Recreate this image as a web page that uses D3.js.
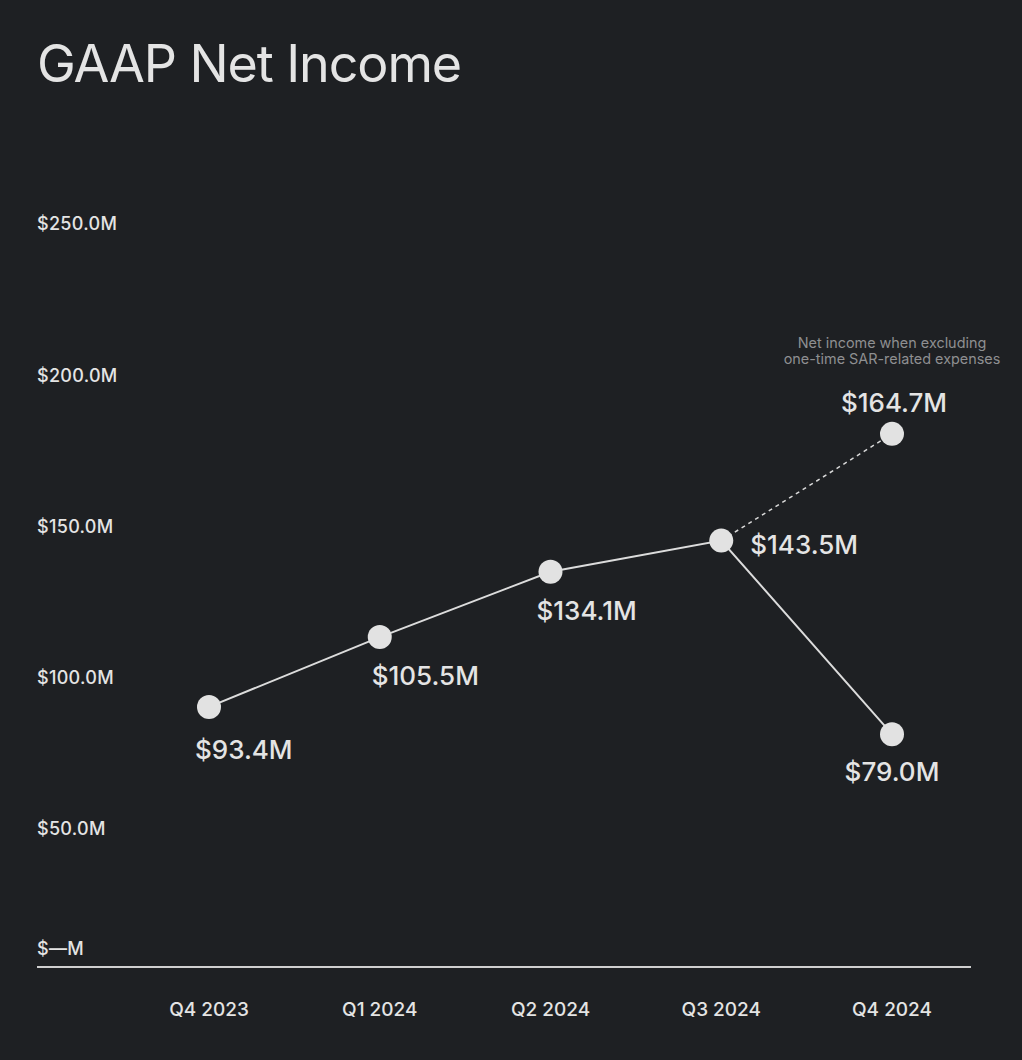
<!DOCTYPE html>
<html>
<head>
<meta charset="utf-8">
<script src="https://cdn.jsdelivr.net/npm/d3@7"></script>
<style>
  html, body { margin: 0; padding: 0; background: #1e2023; }
  svg { display: block; font-family: Inter, "Noto Sans", sans-serif; }
</style>
</head>
<body>
<div id="chart"></div>
<script>
// quarters on the x axis
const quarters = ["Q4 2023", "Q1 2024", "Q2 2024", "Q3 2024", "Q4 2024"];
// where the dots sit ($M)
const netIncome = [90.3, 113.4, 135.0, 145.3, 81.3];
// printed values
const netIncomeLabels = ["$93.4M", "$105.5M", "$134.1M", "$143.5M", "$79.0M"];
// adjusted point (excluding SAR expenses)
const adjQuarter = "Q4 2024";
const adjValue = 180.6;
const adjLabel = "$164.7M";
const yTicks = [0, 50, 100, 150, 200, 250];
const yTickLabels = ["$—M", "$50.0M", "$100.0M", "$150.0M", "$200.0M", "$250.0M"];

const width = 1022, height = 1060;

const svg = d3.select("#chart").append("svg")
    .attr("width", width)
    .attr("height", height);

svg.append("rect")
    .attr("width", width)
    .attr("height", height)
    .attr("fill", "#1e2023");

const x = d3.scalePoint()
    .domain(quarters)
    .range([209, 892]);

const y = d3.scaleLinear()
    .domain([0, 250])
    .range([980, 224]);

const baseY = 967;

// title
svg.append("text")
    .attr("x", 37)
    .attr("y", 82)
    .attr("fill", "#e4e4e4")
    .attr("font-size", 52)
    .attr("letter-spacing", "-1.1px")
    .text("GAAP Net Income");

// y labels (zero label sits just above the baseline)
svg.append("g").selectAll("text")
    .data(yTicks)
    .enter()
    .append("text")
    .attr("x", 37)
    .attr("y", d => d === 0 ? baseY - 18 : y(d))
    .attr("dy", "0.35em")
    .attr("fill", "#e4e4e4")
    .attr("font-size", 18)
    .attr("font-weight", 500)
    .attr("letter-spacing", "0.3px")
    .text((d, i) => yTickLabels[i]);

// baseline
svg.append("line")
    .attr("x1", 37).attr("x2", 971)
    .attr("y1", baseY).attr("y2", baseY)
    .attr("stroke", "#cfcfcf")
    .attr("stroke-width", 2);

// x labels
svg.append("g").selectAll("text")
    .data(quarters)
    .enter()
    .append("text")
    .attr("x", d => x(d))
    .attr("y", 1016)
    .attr("text-anchor", "middle")
    .attr("fill", "#e4e4e4")
    .attr("font-size", 19)
    .attr("font-weight", 500)
    .text(d => d);

const pts = quarters.map((q, i) => ({ q: q, v: netIncome[i], label: netIncomeLabels[i] }));

// dashed line to the adjusted point
svg.append("line")
    .attr("x1", x(quarters[3])).attr("y1", y(netIncome[3]))
    .attr("x2", x(adjQuarter)).attr("y2", y(adjValue))
    .attr("stroke", "#d9d9d9")
    .attr("stroke-width", 1.5)
    .attr("stroke-dasharray", "4,4");

const line = d3.line()
    .x(d => x(d.q))
    .y(d => y(d.v));

svg.append("path")
    .datum(pts)
    .attr("d", line)
    .attr("fill", "none")
    .attr("stroke", "#dcdcdc")
    .attr("stroke-width", 2);

svg.append("g").selectAll("circle")
    .data(pts.concat([{ q: adjQuarter, v: adjValue, label: adjLabel }]))
    .enter()
    .append("circle")
    .attr("cx", d => x(d.q))
    .attr("cy", d => y(d.v))
    .attr("r", 12)
    .attr("fill", "#e2e2e2");

// value labels: offsets per point
const labelPos = [
    { dx: -14, dy: 52, anchor: "start" },
    { dx: -8, dy: 48, anchor: "start" },
    { dx: -14, dy: 48, anchor: "start" },
    { dx: 29, dy: 13, anchor: "start" },
    { dx: 0, dy: 47, anchor: "middle" }
];

svg.append("g").selectAll("text")
    .data(pts)
    .enter()
    .append("text")
    .attr("x", (d, i) => x(d.q) + labelPos[i].dx)
    .attr("y", (d, i) => y(d.v) + labelPos[i].dy)
    .attr("text-anchor", (d, i) => labelPos[i].anchor)
    .attr("fill", "#e4e4e4")
    .attr("font-size", 26)
    .attr("font-weight", 500)
    .text(d => d.label);

svg.append("text")
    .attr("x", x(adjQuarter) + 2)
    .attr("y", y(adjValue) - 22)
    .attr("text-anchor", "middle")
    .attr("fill", "#e4e4e4")
    .attr("font-size", 26)
    .attr("font-weight", 500)
    .text(adjLabel);

// annotation
const note = svg.append("text")
    .attr("x", x(adjQuarter))
    .attr("text-anchor", "middle")
    .attr("fill", "#8e8f91")
    .attr("font-size", 14.4);
note.append("tspan").attr("x", x(adjQuarter)).attr("y", 348).text("Net income when excluding");
note.append("tspan").attr("x", x(adjQuarter)).attr("y", 364).text("one-time SAR-related expenses");
</script>
</body>
</html>
